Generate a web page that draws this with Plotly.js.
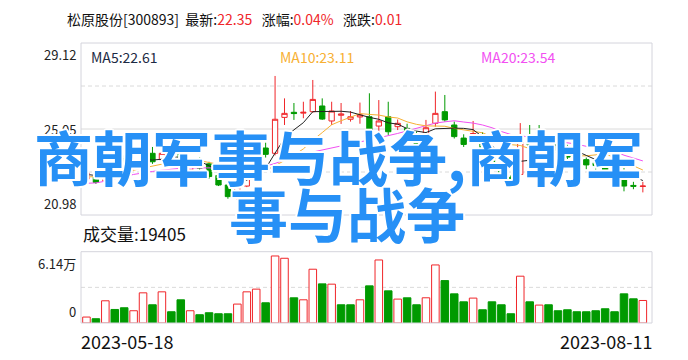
<!DOCTYPE html>
<html>
<head>
<meta charset="utf-8">
<script src="https://cdn.plot.ly/plotly-3.0.1.min.js"></script>
<style>
  html, body { margin: 0; padding: 0; background: #ffffff; }
  #chart { width: 688px; height: 360px; }
</style>
</head>
<body>
<div id="chart"></div>
<script>
// ---- data -------------------------------------------------------------
const stockName = '松原股份';
const stockCode = '300893';

const dates = [
  '2023-05-18','2023-05-19','2023-05-22','2023-05-23','2023-05-24','2023-05-25','2023-05-26','2023-05-29','2023-05-30','2023-05-31',
  '2023-06-01','2023-06-02','2023-06-05','2023-06-06','2023-06-07','2023-06-08','2023-06-09','2023-06-12','2023-06-13','2023-06-14',
  '2023-06-15','2023-06-16','2023-06-19','2023-06-20','2023-06-21','2023-06-26','2023-06-27','2023-06-28','2023-06-29','2023-06-30',
  '2023-07-03','2023-07-04','2023-07-05','2023-07-06','2023-07-07','2023-07-10','2023-07-11','2023-07-12','2023-07-13','2023-07-14',
  '2023-07-17','2023-07-18','2023-07-19','2023-07-20','2023-07-21','2023-07-24','2023-07-25','2023-07-26','2023-07-27','2023-07-28',
  '2023-07-31','2023-08-01','2023-08-02','2023-08-03','2023-08-04','2023-08-07','2023-08-08','2023-08-09','2023-08-10','2023-08-11'
];

const open = [
  22.68, 22.80, 22.60, 24.05, 23.65, 23.25, 23.40, 23.90, 23.60, 24.10,
  24.00, 23.11, 23.60, 23.40, 22.85, 22.40, 22.02, 22.35, 23.90, 24.15,
  23.90, 25.60, 25.84, 25.80, 25.87, 26.14, 25.43, 25.70, 25.51, 25.62,
  25.63, 25.19, 25.63, 25.16, 25.08, 24.77, 24.56, 25.32, 25.87, 25.24,
  24.62, 24.80, 24.75, 23.85, 23.40, 22.76, 22.90, 24.62, 24.90, 24.20,
  24.35, 24.20, 23.90, 23.60, 23.45, 23.30, 23.05, 23.06, 22.38, 22.33
];
const high = [
  23.05, 22.85, 23.80, 24.15, 23.80, 23.60, 24.86, 24.20, 24.86, 24.30,
  24.10, 23.50, 23.70, 23.50, 23.00, 22.50, 22.35, 23.90, 24.58, 24.40,
  27.56, 26.50, 26.28, 26.34, 27.37, 26.50, 26.34, 26.28, 25.90, 26.30,
  26.74, 26.42, 26.34, 25.50, 25.30, 24.95, 25.48, 26.82, 26.66, 25.40,
  24.80, 25.43, 24.90, 23.90, 23.45, 22.85, 25.33, 25.24, 25.24, 24.45,
  24.50, 24.30, 24.00, 23.70, 23.60, 23.45, 23.15, 23.20, 22.55, 22.55
];
const low = [
  22.60, 22.45, 22.50, 23.60, 23.15, 23.10, 23.30, 23.40, 23.55, 23.80,
  23.25, 23.00, 23.10, 22.70, 22.35, 21.75, 21.69, 22.30, 23.68, 23.70,
  23.80, 25.24, 25.48, 25.56, 25.82, 25.48, 25.24, 25.29, 25.40, 25.30,
  24.77, 24.92, 24.77, 25.00, 24.60, 24.20, 24.21, 25.16, 25.40, 24.60,
  24.20, 24.69, 24.00, 23.30, 22.70, 22.60, 22.80, 24.05, 24.20, 24.10,
  23.95, 23.45, 23.40, 23.15, 23.10, 22.90, 22.85, 22.10, 22.20, 22.05
];
const close = [
  22.97, 22.52, 23.70, 23.68, 23.25, 23.50, 23.95, 23.50, 23.90, 23.85,
  23.30, 23.39, 23.20, 22.80, 22.40, 21.85, 22.28, 23.80, 24.10, 23.85,
  25.51, 25.79, 25.78, 25.84, 26.45, 25.52, 25.90, 25.76, 25.63, 25.72,
  25.00, 25.43, 24.92, 25.32, 24.69, 24.37, 25.11, 25.79, 25.48, 24.69,
  24.32, 24.83, 24.07, 23.35, 22.78, 22.72, 24.70, 24.29, 24.35, 24.29,
  24.05, 23.72, 23.60, 23.35, 23.32, 23.02, 22.98, 22.35, 22.34, 22.35
];
const volume = [
   5120,  3680, 19130, 11660, 13120, 10550, 25980, 15690, 26840,  9690,
  19980, 10550,  7120,  8830,  7970,  7960, 16290, 26830, 29160, 17410,
  57710, 55740, 21700, 19980, 46300, 33700, 33440, 15690, 15680, 19980,
  31990, 54280, 27700, 20580, 21700, 15690, 21710, 49990, 36530, 25120,
  18260, 21440, 11400, 18250, 15690,  7970, 40300, 18260, 15430, 15690,
  10550, 11400,  9690,  9680, 10550, 12260,  9690, 25120, 20840, 19405
];

// moving averages of the close (5, 10, 20 sessions)
const ma5 = [
  22.90, 22.85, 22.95, 23.10, 23.22, 23.33, 23.62, 23.58, 23.62, 23.74,
  23.70, 23.59, 23.53, 23.31, 23.02, 22.73, 22.51, 22.63, 22.89, 23.18,
  23.91, 24.61, 25.01, 25.35, 25.87, 25.88, 25.90, 25.89, 25.85, 25.71,
  25.60, 25.51, 25.34, 25.28, 25.07, 24.95, 24.88, 25.06, 25.09, 25.09,
  25.08, 25.02, 24.68, 24.25, 23.87, 23.55, 23.52, 23.57, 23.77, 24.07,
  24.34, 24.14, 24.00, 23.80, 23.61, 23.40, 23.25, 23.00, 22.80, 22.61
];
const ma10 = [
  22.78, 22.80, 22.88, 22.95, 23.02, 23.10, 23.20, 23.30, 23.40, 23.48,
  23.51, 23.60, 23.55, 23.46, 23.38, 23.21, 23.04, 23.07, 23.09, 23.09,
  23.31, 23.55, 23.81, 24.11, 24.52, 24.88, 25.25, 25.44, 25.60, 25.78,
  25.74, 25.71, 25.62, 25.57, 25.39, 25.27, 25.20, 25.20, 25.18, 25.08,
  25.01, 24.95, 24.87, 24.67, 24.48, 24.31, 24.27, 24.12, 24.01, 23.97,
  23.94, 23.83, 23.78, 23.78, 23.84, 23.87, 23.70, 23.51, 23.30, 23.11
];
const ma20 = [
  22.48, 22.50, 22.58, 22.70, 22.80, 22.90, 22.98, 23.04, 23.10, 23.15,
  23.19, 23.21, 23.22, 23.22, 23.21, 23.20, 23.19, 23.19, 23.24, 23.29,
  23.42, 23.58, 23.69, 23.80, 23.96, 24.06, 24.16, 24.27, 24.35, 24.44,
  24.53, 24.63, 24.72, 24.84, 24.96, 25.08, 25.23, 25.33, 25.39, 25.44,
  25.38, 25.33, 25.24, 25.11, 24.93, 24.79, 24.73, 24.66, 24.60, 24.53,
  24.48, 24.39, 24.33, 24.23, 24.16, 24.09, 23.99, 23.81, 23.66, 23.54
];

const priceRange = [20.98, 29.12];
const volumeMax = 61400;
const overlayLines = ['商朝军事与战争,商朝军', '事与战争'];

// ---- styling ----------------------------------------------------------
const RED = '#f0262a';
const GREEN = '#009a00';
const FRAME = '#d4d4dc';
const GRID = '#dadada';
const FONT = "'Noto Sans CJK SC', 'Noto Sans', sans-serif";

const W = 688, H = 360;
const M = { l: 81, r: 36, t: 43, b: 37 };
const plotW = W - M.l - M.r;
const plotH = H - M.t - M.b;
const px = x => (x - M.l) / plotW;
const py = y => 1 - (y - M.t) / plotH;

const n = close.length;
const last = n - 1;

// volume bars are coloured by the close against the previous close
const volUp = close.map((c, i) => i === 0 ? c >= open[0] : c >= close[i - 1]);

const traces = [
  {
    type: 'candlestick', x: dates, open, high, low, close,
    xaxis: 'x', yaxis: 'y',
    increasing: { line: { color: RED, width: 1 }, fillcolor: '#ffffff' },
    decreasing: { line: { color: GREEN, width: 1 }, fillcolor: GREEN },
    whiskerwidth: 0, hoverinfo: 'skip', showlegend: false
  },
  { type: 'scatter', mode: 'lines', x: dates, y: ma20, yaxis: 'y',
    line: { color: '#f24ff2', width: 1 }, hoverinfo: 'skip', showlegend: false },
  { type: 'scatter', mode: 'lines', x: dates, y: ma10, yaxis: 'y',
    line: { color: '#f7b033', width: 1 }, hoverinfo: 'skip', showlegend: false },
  { type: 'scatter', mode: 'lines', x: dates, y: ma5, yaxis: 'y',
    line: { color: '#222222', width: 1 }, hoverinfo: 'skip', showlegend: false },
  {
    type: 'bar', x: dates, y: volume, yaxis: 'y2',
    marker: {
      color: volUp.map(u => u ? '#ffffff' : GREEN),
      line: { color: volUp.map(u => u ? RED : GREEN), width: 1 }
    },
    hoverinfo: 'skip', showlegend: false
  }
];

const [lo, hi] = priceRange;
const priceMid = (lo + hi) / 2;
const shapes = [
  { type: 'line', xref: 'paper', x0: 0, x1: 1, yref: 'y', y0: lo + (hi - lo) * 0.75, y1: lo + (hi - lo) * 0.75,
    line: { color: GRID, width: 1, dash: '4px,3px' }, layer: 'below' },
  { type: 'line', xref: 'paper', x0: 0, x1: 1, yref: 'y', y0: priceMid, y1: priceMid,
    line: { color: GRID, width: 1 }, layer: 'below' },
  { type: 'line', xref: 'paper', x0: 0, x1: 1, yref: 'y', y0: lo + (hi - lo) * 0.25, y1: lo + (hi - lo) * 0.25,
    line: { color: GRID, width: 1, dash: '4px,3px' }, layer: 'below' },
  { type: 'line', xref: 'paper', x0: 0, x1: 1, yref: 'y2', y0: volumeMax / 2, y1: volumeMax / 2,
    line: { color: GRID, width: 1, dash: '4px,3px' }, layer: 'below' },
  { type: 'rect', xref: 'paper', x0: 0, x1: 1, yref: 'y domain', y0: 0, y1: 1,
    line: { color: FRAME, width: 1 }, layer: 'above' },
  { type: 'rect', xref: 'paper', x0: 0, x1: 1, yref: 'y2 domain', y0: 0, y1: 1,
    line: { color: FRAME, width: 1 }, layer: 'above' }
];

const axisLabel = (text, yref, y, yanchor) => ({
  text, xref: 'paper', x: 0, xanchor: 'right', xshift: -3,
  yref, y, yanchor, showarrow: false,
  font: { family: FONT, size: 13, color: '#222222' }
});

const maLabel = (text, color, x) => ({
  text, xref: 'paper', x: px(x), xanchor: 'left', yref: 'paper', y: py(57), yanchor: 'middle',
  showarrow: false, font: { family: FONT, size: 14, color }
});

const outline = [
  '#fff 2px 0 0', '#fff -2px 0 0', '#fff 0 2px 0', '#fff 0 -2px 0',
  '#fff 1.5px 1.5px 0', '#fff -1.5px 1.5px 0', '#fff 1.5px -1.5px 0', '#fff -1.5px -1.5px 0'
].join(', ');
const overlayLine = (text, cx, cy) => ({
  text, xref: 'paper', x: px(cx), xanchor: 'center', yref: 'paper', y: py(cy), yanchor: 'middle',
  showarrow: false,
  font: { family: FONT, size: 59, color: '#2690f6', weight: 700, shadow: outline }
});

const lastChange = close[last] - close[last - 1];
const lastPct = lastChange / close[last - 1] * 100;
const redSpan = t => `<span style="color:${RED}">${t}</span>`;
const titleText =
  `${stockName}[${stockCode}]&nbsp;&nbsp;最新:${redSpan(close[last].toFixed(2))}` +
  `&nbsp;&nbsp;&nbsp;涨幅:${redSpan(lastPct.toFixed(2) + '%')}` +
  `&nbsp;&nbsp;&nbsp;涨跌:${redSpan(lastChange.toFixed(2))}`;

const annotations = [
  axisLabel(hi.toFixed(2), 'y', hi, 'top'),
  axisLabel(priceMid.toFixed(2), 'y', priceMid, 'middle'),
  axisLabel(lo.toFixed(2), 'y', lo, 'bottom'),
  axisLabel((volumeMax / 10000).toFixed(2) + '万', 'y2', volumeMax, 'top'),
  axisLabel('0', 'y2', 0, 'bottom'),
  maLabel('MA5:' + ma5[last].toFixed(2), '#1c2a44', 89),
  maLabel('MA10:' + ma10[last].toFixed(2), '#f7b033', 278),
  maLabel('MA20:' + ma20[last].toFixed(2), '#f24ff2', 479),
  { text: '成交量:' + volume[last], xref: 'paper', x: px(81), xanchor: 'left',
    yref: 'paper', y: py(233), yanchor: 'middle', showarrow: false,
    font: { family: FONT, size: 17, color: '#111111' } },
  { text: dates[0], xref: 'paper', x: 0, xanchor: 'left', xshift: -2,
    yref: 'paper', y: py(341), yanchor: 'middle', showarrow: false,
    font: { family: FONT, size: 18, color: '#111111' } },
  { text: dates[last], xref: 'paper', x: 1, xanchor: 'right', xshift: 2,
    yref: 'paper', y: py(341), yanchor: 'middle', showarrow: false,
    font: { family: FONT, size: 18, color: '#111111' } },
  overlayLine(overlayLines[0], 338, 155),
  overlayLine(overlayLines[1], 347, 212)
];

const layout = {
  width: W, height: H,
  margin: M,
  paper_bgcolor: '#ffffff', plot_bgcolor: '#ffffff',
  showlegend: false,
  bargap: 0.2,
  boxgap: 0.2,
  title: {
    text: titleText, xref: 'container', x: 67 / W, xanchor: 'left',
    yref: 'container', y: 1 - 20 / H, yanchor: 'middle',
    font: { family: FONT, size: 14, color: '#111111' }
  },
  xaxis: {
    type: 'category', range: [-0.58, n - 0.03], anchor: 'y2',
    showticklabels: false, showgrid: false, zeroline: false, showline: false, ticks: '',
    rangeslider: { visible: false }, fixedrange: true
  },
  yaxis: {
    domain: [py(215), 1], range: priceRange,
    showticklabels: false, showgrid: false, zeroline: false, showline: false, ticks: '', fixedrange: true
  },
  yaxis2: {
    domain: [0, py(251.7)], range: [0, volumeMax],
    showticklabels: false, showgrid: false, zeroline: false, showline: false, ticks: '', fixedrange: true
  },
  shapes, annotations
};

Plotly.newPlot('chart', traces, layout, { staticPlot: true, displayModeBar: false });
</script>
</body>
</html>
